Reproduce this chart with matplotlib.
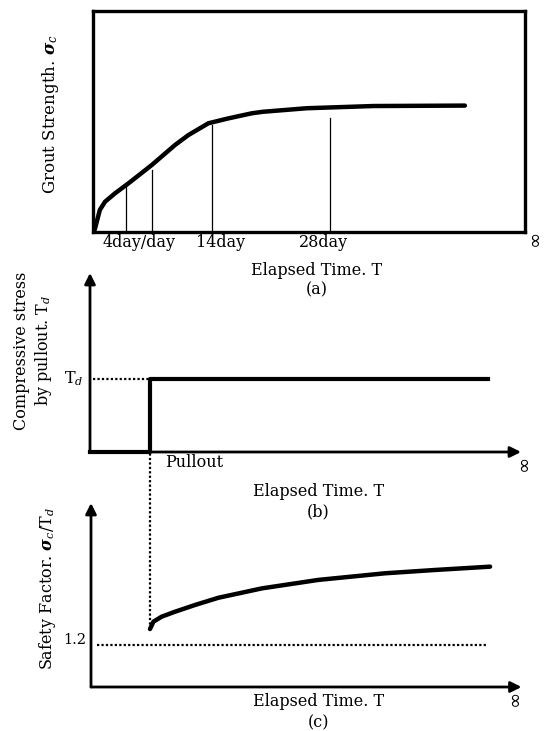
import matplotlib.pyplot as plt

# ── Data (arbitrary units, 0-100 on each panel) ─────────────────────────
# (a) grout strength vs elapsed time
t_a = [0.3, 0.6, 1.7, 2.9, 5.2, 8.3, 13.7, 19.1, 22.2, 26.8, 31.4, 36.8, 39.4, 49.5, 64.9, 86.1]
s_a = [0.0, 1.7, 10.0, 13.7, 17.5, 22.0, 30.3, 39.4, 43.9, 49.2, 51.4, 53.7, 54.4, 56.0, 57.0, 57.2]
mark_x = [7.7, 13.7, 27.6, 54.9]
mark_top = [20.5, 28.1, 48.4, 51.6]
day_labels = ['4day/day', '14day', '28day']
day_label_x = [10.8, 29.7, 53.5]

# (b) compressive stress by pullout (step)
t_b = [0, 13.9, 13.9, 92.3]
s_b = [0, 0, 40.8, 40.8]

# (c) safety factor
t_c = [13.7, 14.5, 16.4, 19.5, 24.2, 29.6, 39.7, 52.8, 68.3, 79.9, 92.7]
s_c = [31.5, 35.5, 38.2, 40.9, 44.6, 48.5, 53.6, 58.2, 61.8, 63.6, 65.4]
sf_limit = 22.8

plt.rcParams['font.family'] = ['DejaVu Serif']
plt.rcParams['mathtext.fontset'] = 'dejavuserif'
W, H = 549, 731
fig = plt.figure(figsize=(W / 100, H / 100), dpi=100)
FS = 11.5


def px_axes(x0, x1, ytop, ybot):
    return fig.add_axes([x0 / W, 1 - ybot / H, (x1 - x0) / W, (ybot - ytop) / H])


def infinity(ax, x, y):
    ax.text(x, y, '∞', rotation=90, ha='center', va='center', fontsize=14,
            family='DejaVu Sans', clip_on=False)


arrow = dict(arrowstyle='-|>', lw=2, color='k', mutation_scale=16, shrinkA=0, shrinkB=0)
dotted = dict(color='k', lw=1.6, ls=(0, (1, 1)))

# ── (a) ─────────────────────────────────────────────────────────────────
ax = px_axes(92.5, 525, 11, 232)
ax.plot(t_a, s_a, color='k', lw=3.2, solid_capstyle='round', solid_joinstyle='round')
for x, top in zip(mark_x, mark_top):
    ax.plot([x, x], [0, top], color='k', lw=0.9)
ax.set_xlim(0, 100)
ax.set_ylim(0, 100)
ax.set_xticks([])
ax.set_yticks([])
for sp in ax.spines.values():
    sp.set_linewidth(2.4)
for lab, x in zip(day_labels, day_label_x):
    ax.text(x, -4.6, lab, ha='center', va='center', fontsize=FS)
infinity(ax, 102.1, -2.7)
ax.text(51.9, -17.2, 'Elapsed Time. T', ha='center', va='center', fontsize=FS)
ax.text(51.9, -26.2, '(a)', ha='center', va='center', fontsize=FS)
ax.text(-9.6, 53.4, r'Grout Strength. $\boldsymbol{\sigma}_c$', rotation=90,
        ha='center', va='center', fontsize=FS + 0.5)

# ── (b) ─────────────────────────────────────────────────────────────────
ax = px_axes(90, 521, 273, 452)
ax.set_xlim(0, 100)
ax.set_ylim(0, 100)
ax.axis('off')
ax.annotate('', xy=(100, 0), xytext=(0, 0), arrowprops=arrow, annotation_clip=False)
ax.annotate('', xy=(0, 100), xytext=(0, 0), arrowprops=arrow, annotation_clip=False)
ax.plot(t_b, s_b, color='k', lw=3, clip_on=False)
ax.plot([0.6, t_b[1]], [s_b[2], s_b[2]], **dotted)
ax.text(-1.6, s_b[2], r'T$_d$', ha='right', va='center', fontsize=FS)
ax.text(24.1, -6.1, 'Pullout', ha='center', va='center', fontsize=FS)
infinity(ax, 100.5, -6.1)
ax.text(53.0, -22.2, 'Elapsed Time. T', ha='center', va='center', fontsize=FS)
ax.text(53.0, -33.4, '(b)', ha='center', va='center', fontsize=FS)
ax.text(-13.2, 56.5, 'Compressive stress\nby pullout. T$_d$', rotation=90,
        ha='center', va='center', fontsize=FS, linespacing=1.2)

# ── (c) ─────────────────────────────────────────────────────────────────
ax = px_axes(91, 521.5, 503, 687)
ax.set_xlim(0, 100)
ax.set_ylim(0, 100)
ax.axis('off')
ax.annotate('', xy=(100, 0), xytext=(0, 0), arrowprops=arrow, annotation_clip=False)
ax.annotate('', xy=(0, 100), xytext=(0, 0), arrowprops=arrow, annotation_clip=False)
ax.plot(t_c, s_c, color='k', lw=3.2, solid_capstyle='round', solid_joinstyle='round')
ax.plot([t_c[0], t_c[0]], [s_c[0], 127.7], clip_on=False, **dotted)
ax.plot([1.5, 91.9], [sf_limit, sf_limit], **dotted)
ax.text(-1.2, 25.5, '1.2', ha='right', va='center', fontsize=FS - 1)
infinity(ax, 98.4, -6.1)
ax.text(52.8, -8.0, 'Elapsed Time. T', ha='center', va='center', fontsize=FS)
ax.text(52.8, -19.7, '(c)', ha='center', va='center', fontsize=FS)
ax.text(-10.2, 53.6, r'Safety Factor. $\boldsymbol{\sigma}_c$/T$_d$', rotation=90,
        ha='center', va='center', fontsize=FS)

fig.savefig('out.png', dpi=100)
